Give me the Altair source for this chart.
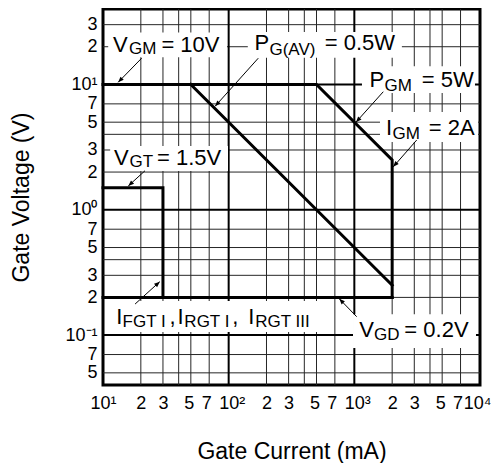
import math
import altair as alt
import pandas as pd

# ---------------- axes ----------------
x_domain = [10, 10000]
y_domain = [0.04, 40]
x_minor = [20, 30, 40, 50, 70, 200, 300, 400, 500, 700, 2000, 3000, 4000, 5000, 7000]
x_major = [100, 1000]
y_minor = [0.05, 0.07, 0.2, 0.3, 0.4, 0.5, 0.7, 2, 3, 4, 5, 7, 20, 30]
y_major = [0.1, 1, 10]
x_ticks = [10, 20, 30, 50, 70, 100, 200, 300, 500, 700, 1000, 2000, 3000, 5000, 7000, 10000]
y_ticks = [0.05, 0.07, 0.1, 0.2, 0.3, 0.5, 0.7, 1, 2, 3, 5, 7, 10, 20, 30]

# ---------------- characteristic curves (mA, V) ----------------
peak_I = [10, 500, 2000, 2000]
peak_V = [10, 10, 2.5, 0.2]
avg_I = [50, 2000]
avg_V = [10, 0.25]
vgt_I = [10, 30, 30]
vgt_V = [1.5, 1.5, 0.2]
vgd_I = [10, 2000]
vgd_V = [0.2, 0.2]

# ---------------- annotations ----------------
box_x1 = [11, 142, 1150, 1600, 11.4, 11.8, 976]
box_x2 = [97, 2390, 9120, 9640, 98.8, 584, 9290]
box_y1 = [16.5, 16.3, 8.55, 3.47, 2.04, 0.106, 0.0789]
box_y2 = [26, 26.2, 14.0, 6.03, 3.23, 0.187, 0.147]

main_text = ["V", "= 10V", "P", "= 0.5W", "P", "= 5W", "I", "= 2A", "V", "= 1.5V",
             "I", ",", "I", ",", "I", "V", "= 0.2V"]
main_x = [12.01, 29.15, 160.5, 581, 1320, 3436, 1786, 3906, 12.23, 26.9,
          12.76, 33.8, 39.2, 107, 143, 1095, 2500]
main_y = [18.25, 18.25, 18.8, 18.8, 9.54, 9.54, 3.95, 3.95, 2.28, 2.28,
          0.1227, 0.1227, 0.1227, 0.1227, 0.1227, 0.096, 0.096]

sub_text = ["GM", "G(AV)", "GM", "GM", "GT", "FGT I", "RGT I", "RGT III", "GD"]
sub_x = [16.1, 211, 1738, 2012, 16.25, 14.3, 44.4, 162.5, 1433]
sub_y = [17.5, 17.2, 8.92, 3.67, 2.19, 0.116, 0.116, 0.116, 0.0914]

arrow_from_I = [20.3, 172, 1700, 3134, 21.6, 18.0, 1044]
arrow_from_V = [16.2, 16.2, 8.75, 3.6, 2.05, 0.177, 0.1403]
arrow_tip_I = [13.2, 78, 1031, 2040, 15.9, 28.3, 759]
arrow_tip_V = [10.4, 6.7, 5.0, 2.2, 1.55, 0.267, 0.195]

FONT = "Liberation Sans"
PX_X = 377 / 3.0
PX_Y = 376 / 3.0

xs = alt.Scale(type="log", domain=x_domain, nice=False)
ys = alt.Scale(type="log", domain=y_domain, nice=False)

sup = {"1": "\u00b9", "2": "\u00b2", "3": "\u00b3", "4": "\u2074", "0": "\u2070"}
lead = "''+round(datum.value/pow(10,floor(log(datum.value)/LN10+1e-6)))"
x_expr = ("datum.value==10?'10" + sup["1"] + "':datum.value==100?'10" + sup["2"] +
          "':datum.value==1000?'10" + sup["3"] + "':datum.value==10000?'10" + sup["4"] +
          "':" + lead)
y_expr = ("datum.value==10?'10" + sup["1"] + "':datum.value==1?'10" + sup["0"] +
          "':datum.value==0.1?'10\u207b" + sup["1"] + "':" + lead)

x_label_offset = {
    "condition": [
        {"test": "datum.value == 10000", "value": -3},
        {"test": "datum.value == 100 || datum.value == 1000", "value": 3},
        {"test": "datum.value == 70 || datum.value == 700 || datum.value == 7000", "value": -3},
        {"test": "datum.value == 50 || datum.value == 500 || datum.value == 5000", "value": -2},
    ],
    "value": 0,
}

x_axis = alt.Axis(values=x_ticks, labelExpr=x_expr, grid=False, ticks=False, tickSize=0,
                  domain=False, labelFlush=False, labelOverlap=False, labelBound=False,
                  labelFontSize=18, labelColor="black", labelFont=FONT,
                  labelBaseline="alphabetic", labelPadding=23,
                  labelOffset=x_label_offset,
                  title="Gate Current  (mA)", titleFontSize=23, titleFontWeight="normal",
                  titleFont=FONT, titleColor="black", titleX=188.5, titleY=73,
                  titleBaseline="alphabetic", titleAlign="center")
y_axis = alt.Axis(values=y_ticks, labelExpr=y_expr, grid=False, ticks=False, tickSize=0,
                  domain=False, labelFlush=False, labelOverlap=False, labelBound=False,
                  labelFontSize=18, labelColor="black", labelFont=FONT,
                  labelBaseline="middle", labelPadding=6,
                  title="Gate Voltage  (V)", titleFontSize=23, titleFontWeight="normal",
                  titleFont=FONT, titleColor="black", titleX=-75, titleY=188,
                  titleAngle=270, titleBaseline="alphabetic", titleAlign="center")


def X(field):
    return alt.X(field, scale=xs, axis=x_axis)


def Y(field):
    return alt.Y(field, scale=ys, axis=y_axis)


vx_minor = alt.Chart(pd.DataFrame({"I": x_minor})).mark_rule(color="#262626", strokeWidth=1).encode(
    x=X("I:Q"))
vx_major = alt.Chart(pd.DataFrame({"I": x_major})).mark_rule(color="black", strokeWidth=2).encode(
    x=X("I:Q"))
hy_minor = alt.Chart(pd.DataFrame({"V": y_minor})).mark_rule(color="#262626", strokeWidth=1).encode(
    y=Y("V:Q"))
hy_major = alt.Chart(pd.DataFrame({"V": y_major})).mark_rule(color="black", strokeWidth=2).encode(
    y=Y("V:Q"))

curve_rows = []
for name, I, V in [("peak", peak_I, peak_V), ("avg", avg_I, avg_V),
                   ("vgt", vgt_I, vgt_V), ("vgd", vgd_I, vgd_V)]:
    for k, (i, v) in enumerate(zip(I, V)):
        curve_rows.append({"series": name, "ord": k, "I": i, "V": v})
curves = alt.Chart(pd.DataFrame(curve_rows)).mark_line(
    color="black", strokeWidth=3, strokeJoin="miter", strokeCap="square").encode(
    x=X("I:Q"), y=Y("V:Q"), detail="series:N", order="ord:Q")

boxes = alt.Chart(pd.DataFrame({"x1": box_x1, "x2": box_x2, "y1": box_y1, "y2": box_y2})).mark_rect(
    color="white").encode(x=X("x1:Q"), x2="x2:Q", y=Y("y1:Q"), y2="y2:Q")

main_lbl = alt.Chart(pd.DataFrame({"t": main_text, "x": main_x, "y": main_y})).mark_text(
    align="left", baseline="alphabetic", fontSize=22, font=FONT, color="black").encode(
    x=X("x:Q"), y=Y("y:Q"), text="t:N")
sub_lbl = alt.Chart(pd.DataFrame({"t": sub_text, "x": sub_x, "y": sub_y})).mark_text(
    align="left", baseline="alphabetic", fontSize=17, font=FONT, color="black").encode(
    x=X("x:Q"), y=Y("y:Q"), text="t:N")

angles = []
for a, b, c, d in zip(arrow_from_I, arrow_from_V, arrow_tip_I, arrow_tip_V):
    dxp = math.log10(c / a) * PX_X
    dyp = -math.log10(d / b) * PX_Y
    angles.append(math.degrees(math.atan2(dxp, -dyp)) % 360)
arrow_df = pd.DataFrame({"x1": arrow_from_I, "y1": arrow_from_V,
                         "x2": arrow_tip_I, "y2": arrow_tip_V, "ang": angles})
shafts = alt.Chart(arrow_df).mark_rule(color="black", strokeWidth=1).encode(
    x=X("x1:Q"), y=Y("y1:Q"), x2="x2:Q", y2="y2:Q")
heads = alt.Chart(arrow_df).mark_point(
    shape="M0,0L-0.4,1L0.4,1Z", filled=True, color="black", opacity=1, size=130).encode(
    x=X("x2:Q"), y=Y("y2:Q"), angle=alt.Angle("ang:Q", scale=None))

chart = alt.layer(vx_minor, hy_minor, vx_major, hy_major, curves, boxes,
                  main_lbl, sub_lbl, shafts, heads).properties(
    width=377, height=376,
    autosize=alt.AutoSizeParams(type="none"),
    padding={"left": 95, "top": 1, "right": 11, "bottom": 78},
    background="white",
).configure(font=FONT).configure_view(stroke="black", strokeWidth=3)

chart.save("out.html", embed_options={"renderer": "svg", "actions": False})
